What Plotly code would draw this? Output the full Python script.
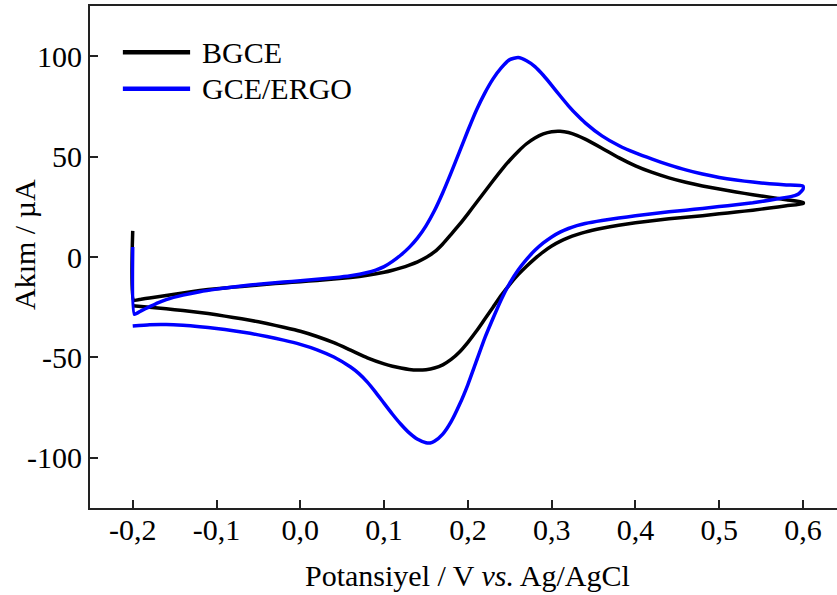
import plotly.graph_objects as go

# ---------------- data ----------------
series_names = ["BGCE", "GCE/ERGO"]
series_colors = ["#000000", "#0000FF"]

# BGCE: forward scan (-0.2 -> 0.6) then reverse scan (0.6 -> -0.2)
bgce_fwd_E = [-0.200, -0.199, -0.19, -0.18, -0.16, -0.14, -0.12, -0.10, -0.08, -0.06, -0.04,
              -0.02, 0.00, 0.02, 0.04, 0.06, 0.08, 0.10, 0.11, 0.12, 0.13, 0.14, 0.15, 0.16,
              0.17, 0.18, 0.19, 0.20, 0.21, 0.22, 0.23, 0.24, 0.25, 0.26, 0.27, 0.28, 0.29,
              0.30, 0.31, 0.32, 0.33, 0.34, 0.36, 0.38, 0.40, 0.42, 0.44, 0.46, 0.48, 0.50,
              0.52, 0.54, 0.56, 0.58, 0.60]
bgce_fwd_I = [13.0, -21.5, -21.0, -20.4, -19.2, -17.9, -16.7, -15.8, -15.0, -14.3, -13.6,
              -12.9, -12.3, -11.7, -11.0, -10.2, -9.1, -7.6, -6.6, -5.4, -4.0, -2.4, -0.3, 2.5,
              6.5, 11.3, 16.2, 21.5, 27.0, 32.5, 38.0, 43.3, 48.2, 52.6, 56.4, 59.3, 61.3,
              62.4, 62.6, 62.0, 60.6, 58.7, 54.2, 49.5, 45.4, 42.1, 39.4, 37.2, 35.4, 33.9,
              32.4, 31.0, 29.8, 28.5, 27.2]
bgce_rev_E = [0.60, 0.58, 0.56, 0.54, 0.52, 0.50, 0.48, 0.46, 0.44, 0.42, 0.40, 0.38, 0.36,
              0.34, 0.33, 0.32, 0.31, 0.30, 0.29, 0.28, 0.27, 0.26, 0.25, 0.24, 0.23, 0.22,
              0.21, 0.20, 0.19, 0.18, 0.17, 0.16, 0.15, 0.14, 0.13, 0.12, 0.11, 0.10, 0.08,
              0.06, 0.04, 0.02, 0.00, -0.02, -0.04, -0.06, -0.08, -0.10, -0.12, -0.14, -0.16,
              -0.18, -0.20]
bgce_rev_I = [26.6, 25.5, 24.4, 23.3, 22.4, 21.5, 20.6, 19.8, 19.0, 18.0, 17.0, 15.8, 14.3,
              12.4, 11.1, 9.6, 7.8, 5.5, 2.6, -0.8, -4.6, -8.8, -13.6, -19.0, -25.0, -31.0,
              -37.0, -42.5, -47.3, -51.0, -53.7, -55.3, -56.1, -56.3, -56.0, -55.3, -54.4, -53.2, -50.2,
              -46.4, -42.7, -39.6, -37.0, -35.0, -33.1, -31.5, -30.1, -28.8, -27.6, -26.7, -25.8,
              -25.0, -24.3]

# GCE/ERGO
ergo_fwd_E = [-0.200, -0.198, -0.19, -0.18, -0.17, -0.16, -0.14, -0.12, -0.10, -0.08, -0.06,
              -0.04, -0.02, 0.00, 0.02, 0.04, 0.06, 0.08, 0.09, 0.10, 0.11, 0.12, 0.13, 0.14,
              0.15, 0.16, 0.17, 0.18, 0.19, 0.20, 0.21, 0.22, 0.23, 0.24, 0.25, 0.26,
              0.27, 0.28, 0.29, 0.30, 0.31, 0.32, 0.33, 0.34, 0.36, 0.38, 0.40, 0.42, 0.44,
              0.46, 0.48, 0.50, 0.52, 0.54, 0.56, 0.58, 0.60]
ergo_fwd_I = [5.0, -28.5, -26.8, -24.8, -22.8, -21.2, -19.0, -17.3, -16.0, -14.9, -14.0,
              -13.2, -12.5, -11.8, -11.1, -10.3, -9.3, -7.7, -6.5, -4.8, -2.2, 1.0, 4.8, 9.5,
              15.5, 23.0, 32.0, 42.0, 52.5, 63.0, 73.0, 81.5, 88.7, 94.3, 98.3, 99.3,
              97.7, 94.8, 90.5, 85.5, 80.3, 75.3, 70.8, 66.8, 60.3, 55.5, 51.8, 48.7, 45.9,
              43.4, 41.3, 39.6, 38.3, 37.3, 36.5, 35.9, 35.3]
ergo_rev_E = [0.60, 0.595, 0.59, 0.58, 0.56, 0.54, 0.52, 0.50, 0.48, 0.46, 0.44, 0.42, 0.40,
              0.38, 0.36, 0.34, 0.33, 0.32, 0.31, 0.30, 0.29, 0.28, 0.27, 0.26, 0.25, 0.24,
              0.23, 0.22, 0.21, 0.20, 0.19, 0.18, 0.17, 0.16, 0.155, 0.15, 0.14, 0.13, 0.12,
              0.11, 0.10, 0.09, 0.08, 0.07, 0.06, 0.04, 0.02, 0.00, -0.02, -0.04, -0.06, -0.08,
              -0.10, -0.12, -0.14, -0.16, -0.18, -0.20]
ergo_rev_I = [33.8, 31.5, 30.6, 29.7, 28.3, 27.0, 26.0, 25.1, 24.2, 23.3, 22.5, 21.5, 20.5,
              19.4, 18.2, 16.7, 15.6, 14.2, 12.4, 10.0, 7.0, 3.3, -1.2, -6.5, -13.0, -21.0,
              -30.5, -40.5, -52.0, -63.5, -73.5, -82.0, -88.2, -91.8, -92.6, -92.5, -90.8, -87.6, -83.3,
              -78.3, -72.9, -67.4, -62.3, -58.1, -54.8, -49.8, -46.2, -43.5, -41.4, -39.6, -38.0, -36.7,
              -35.6, -34.7, -34.0, -33.6, -33.7, -34.4]

x_tick_vals = [-0.2, -0.1, 0.0, 0.1, 0.2, 0.3, 0.4, 0.5, 0.6]
x_tick_text = ["-0,2", "-0,1", "0,0", "0,1", "0,2", "0,3", "0,4", "0,5", "0,6"]
y_tick_vals = [-100, -50, 0, 50, 100]
y_tick_text = ["-100", "-50", "0", "50", "100"]

x_title = "Potansiyel / V <i>vs.</i> Ag/AgCl"
y_title = "Akım / µA"

# ---------------- figure ----------------
FONT = "Liberation Serif, Times New Roman, serif"

fig = go.Figure()
curves = [
    (bgce_fwd_E + bgce_rev_E, bgce_fwd_I + bgce_rev_I),
    (ergo_fwd_E + ergo_rev_E, ergo_fwd_I + ergo_rev_I),
]
for (E, I), name, col in zip(curves, series_names, series_colors):
    fig.add_trace(go.Scatter(
        x=E, y=I, mode="lines", name=name, showlegend=False,
        line=dict(color=col, width=3.5, shape="spline", smoothing=0.5),
    ))

# manual legend (long line samples as in the reference)
leg_y = [0.908, 0.835]
for name, col, yy in zip(series_names, series_colors, leg_y):
    fig.add_shape(type="line", xref="paper", yref="paper",
                  x0=0.044, x1=0.134, y0=yy, y1=yy,
                  line=dict(color=col, width=4.5))
    fig.add_annotation(text=name, xref="paper", yref="paper", x=0.147, y=yy,
                       xanchor="left", yanchor="middle", showarrow=False,
                       font=dict(family=FONT, size=30, color="black"))

# axis titles
fig.add_annotation(text=x_title, xref="paper", yref="paper", x=0.5047, y=-0.135,
                   xanchor="center", yanchor="middle", showarrow=False,
                   font=dict(family=FONT, size=30, color="black"))
fig.add_annotation(text=y_title, xref="paper", yref="paper", x=-0.087, y=0.524,
                   xanchor="center", yanchor="middle", showarrow=False, textangle=-90,
                   font=dict(family=FONT, size=30, color="black"))

fig.update_layout(
    width=837, height=595,
    margin=dict(l=90, r=0, t=6, b=87),
    paper_bgcolor="white", plot_bgcolor="white",
    font=dict(family=FONT, size=30, color="black"),
    showlegend=False,
)
fig.update_xaxes(
    range=[-0.251, 0.6405], tickvals=x_tick_vals, ticktext=x_tick_text,
    ticks="inside", ticklen=8, tickwidth=2, tickcolor="#222",
    showline=True, linecolor="#222", linewidth=2, mirror=True,
    showgrid=False, zeroline=False, ticklabelstandoff=-6,
    tickfont=dict(family=FONT, size=30, color="black"),
)
fig.update_yaxes(
    range=[-125, 125], tickvals=y_tick_vals, ticktext=y_tick_text,
    ticks="inside", ticklen=8, tickwidth=2, tickcolor="#222",
    showline=True, linecolor="#222", linewidth=2, mirror=False,
    showgrid=False, zeroline=False,
    tickfont=dict(family=FONT, size=30, color="black"),
)

fig.write_html("out.html")
